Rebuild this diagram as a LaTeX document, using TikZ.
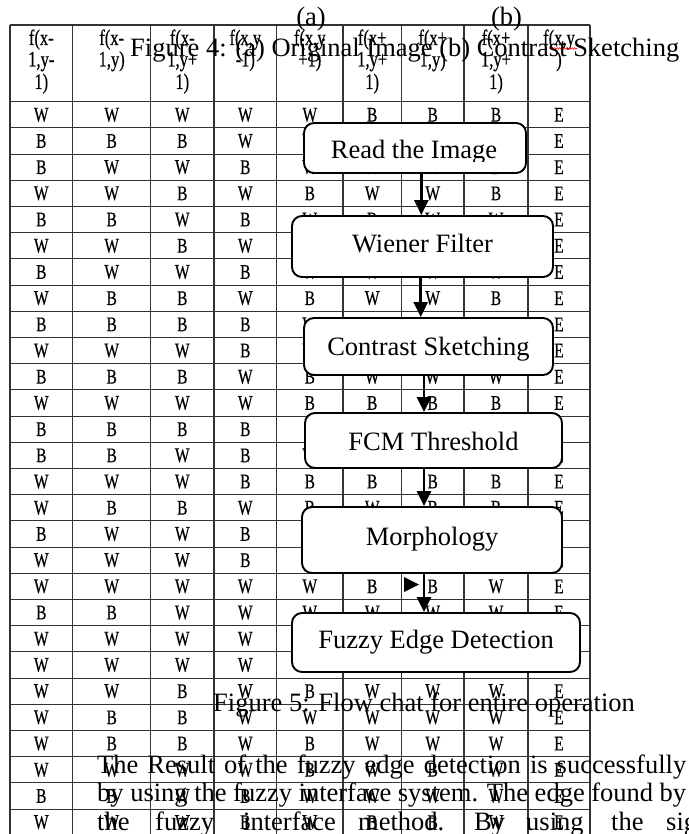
\documentclass[tikz,border=0pt]{standalone}
\usepackage{fontspec}
\setmainfont{Liberation Serif}
\newfontfamily\tabfont{Liberation Serif}[FakeBold=0.5]
\usepackage{graphicx}
\usetikzlibrary{arrows.meta,decorations.pathmorphing}
\newcommand{\cellL}[1]{\scalebox{0.97}[1.3]{#1}}
\newcommand{\trow}[2]{%
  \pgfmathsetmacro{\cy}{101.7+26.2*(#1-0.5)}%
  \foreach \v [count=\ci] in {#2} {%
    \pgfmathsetmacro{\cx}{{41.3,111.7,182.3,245.3,309.8,372.2,432.7,496,559}[\ci-1]}%
    \node[cellt] (c-#1-\ci) at (\cx,\cy) {\cellL{\v}};
  }%
}
\begin{document}
\begin{tikzpicture}[x=1pt,y=-1pt,
  tline/.style={draw=black!80,line width=1.1pt},
  cellt/.style={inner sep=0pt,font=\tabfont\fontsize{16}{19}\selectfont,text=black},
  hdr/.style={inner sep=0pt,anchor=base,font=\tabfont\fontsize{17}{20}\selectfont,text=black},
  big/.style={inner sep=0pt,font=\fontsize{26.5}{30}\selectfont},
  stepbox/.style={draw,line width=1.9pt,rounded corners=10pt,fill=white,inner sep=0pt,font=\fontsize{26.5}{30}\selectfont,text depth=0pt},
  arr/.style={line width=2.6pt,-{Triangle[width=14pt,length=15pt]}}]
\useasboundingbox (0,0) rectangle (688,834);
\clip (0,0) rectangle (688,834);
\fill[white] (0,0) rectangle (688,834);
% table grid
\foreach \x in {10,72.7,150.7,214,276.7,343,401.3,464,528,590} {
  \draw[tline] (\x,25) -- (\x,840);
}
\draw[tline] (10,25) -- (590,25);
\foreach \k in {0,...,28} {
  \draw[tline] (10,{101.7+26.2*\k}) -- (590,{101.7+26.2*\k});
}
% header
\node[hdr] (h1a) at (41.3,45) {\cellL{f(x-}};
\node[hdr] (h1b) at (41.3,66.5) {\cellL{1,y-}};
\node[hdr] (h1c) at (41.3,89) {\cellL{1)}};
\node[hdr] (h2a) at (111.7,45) {\cellL{f(x-}};
\node[hdr] (h2b) at (111.7,66.5) {\cellL{1,y)}};
\node[hdr] (h3a) at (182.3,45) {\cellL{f(x-}};
\node[hdr] (h3b) at (182.3,66.5) {\cellL{1,y+}};
\node[hdr] (h3c) at (182.3,89) {\cellL{1)}};
\node[hdr] (h4a) at (245.3,45) {\cellL{f(x,y}};
\node[hdr] (h4b) at (245.3,66.5) {\cellL{-1)}};
\node[hdr] (h5a) at (309.8,45) {\cellL{f(x,y}};
\node[hdr] (h5b) at (309.8,66.5) {\cellL{+1)}};
\node[hdr] (h6a) at (372.2,45) {\cellL{f(x+}};
\node[hdr] (h6b) at (372.2,66.5) {\cellL{1,y+}};
\node[hdr] (h6c) at (372.2,89) {\cellL{1)}};
\node[hdr] (h7a) at (432.7,45) {\cellL{f(x+}};
\node[hdr] (h7b) at (432.7,66.5) {\cellL{1,y)}};
\node[hdr] (h8a) at (496,45) {\cellL{f(x+}};
\node[hdr] (h8b) at (496,66.5) {\cellL{1,y+}};
\node[hdr] (h8c) at (496,89) {\cellL{1)}};
\node[hdr] (h9a) at (559,45) {\cellL{f(x,y}};
\node[hdr] (h9b) at (559,66.5) {\cellL{)}};
\draw[red,line width=0.6pt,decorate,decoration={zigzag,amplitude=0.8pt,segment length=2.5pt}] (549,48.5) -- (577,48.5);
% body
\trow{1}{W,W,W,W,W,B,B,B,E}
\trow{2}{B,B,B,W,W,W,W,B,E}
\trow{3}{B,W,W,B,W,W,W,B,E}
\trow{4}{W,W,B,W,B,W,W,B,E}
\trow{5}{B,B,W,B,W,B,W,W,E}
\trow{6}{W,W,B,W,W,W,W,W,E}
\trow{7}{B,W,W,B,W,W,W,W,E}
\trow{8}{W,B,B,W,B,W,W,B,E}
\trow{9}{B,B,B,B,W,W,W,W,E}
\trow{10}{W,W,W,B,W,W,W,W,E}
\trow{11}{B,B,B,W,B,W,W,W,E}
\trow{12}{W,W,W,W,B,B,B,B,E}
\trow{13}{B,B,B,B,B,B,B,B,E}
\trow{14}{B,B,W,B,W,W,W,W,E}
\trow{15}{W,W,W,B,B,B,B,B,E}
\trow{16}{W,B,B,W,B,W,B,B,E}
\trow{17}{B,W,W,B,W,W,W,W,E}
\trow{18}{W,W,W,B,W,W,W,W,E}
\trow{19}{W,W,W,W,W,B,B,W,E}
\trow{20}{B,B,W,W,W,W,W,W,E}
\trow{21}{W,W,W,W,W,W,W,W,E}
\trow{22}{W,W,W,W,W,W,W,W,E}
\trow{23}{W,W,B,W,B,W,W,W,E}
\trow{24}{W,B,B,W,W,W,W,W,E}
\trow{25}{W,B,B,W,B,W,W,W,E}
\trow{26}{W,W,W,W,B,W,B,W,E}
\trow{27}{B,B,W,B,W,W,W,W,E}
\trow{28}{W,W,W,B,W,B,B,W,E}
% captions
\node[big,anchor=base] (capa) at (311,26) {(a)};
\node[big,anchor=base] (capb) at (506.5,26) {(b)};
\node[big,anchor=base west] (fig4) at (130,57) {Figure 4: (a) Original Image (b) Contrast Sketching};
% flow chart
\node[stepbox,minimum width=222pt,minimum height=50pt] (read) at (415,148) {};
\begin{scope}
\clip (300,120) rectangle (530,162);
\node[big,anchor=base] (readtxt) at (414,158.5) {Read the Image};
\end{scope}
\node[stepbox,minimum width=261pt,minimum height=61pt,text height=11pt] (wiener) at (422.5,246.5) {Wiener Filter};
\node[stepbox,minimum width=249pt,minimum height=57pt,text height=17pt] (contrast) at (428.5,346.5) {Contrast Sketching};
\node[stepbox,minimum width=257pt,minimum height=55pt,text height=19pt] (fcm) at (433.5,440.5) {FCM Threshold};
\node[stepbox,minimum width=260pt,minimum height=66pt,text height=10pt] (morph) at (432,540) {Morphology};
\node[stepbox,minimum width=288pt,minimum height=59pt,text height=11pt] (fuzzy) at (436,642.5) {Fuzzy Edge Detection};
\coordinate (ax1) at (421.3,0);
\coordinate (ax2) at (420.7,0);
\coordinate (ax3) at (424,0);
\draw[arr] (read.south -| ax1) -- (wiener.north -| ax1);
\draw[arr] (wiener.south -| ax2) -- (contrast.north -| ax2);
\draw[arr] (contrast.south -| ax3) -- (fcm.north -| ax3);
\draw[arr] (fcm.south -| ax3) -- (morph.north -| ax3);
\draw[arr] (morph.south -| ax3) -- (fuzzy.north -| ax3);
\fill (404,577) -- (419,584.5) -- (404,592) -- cycle;
% caption 5 and paragraph
\node[big,anchor=base west] (fig5) at (213,711.7) {Figure 5: Flow chat for entire operation};
\node[big,anchor=base west] (p1) at (97,773) {\makebox[589pt][s]{The Result of the fuzzy edge detection is successfully}};
\node[big,anchor=base west] (p2) at (97,801.7) {\makebox[589pt][s]{by using the fuzzy interface system. The edge found by}};
\node[big,anchor=base west] (p3a) at (97,830) {the};
\node[big,anchor=base west] (p3b) at (155,830) {fuzzy};
\node[big,anchor=base west] (p3c) at (243,830) {interface};
\node[big,anchor=base west] (p3d) at (358,830) {method.};
\node[big,anchor=base west] (p3e) at (474,830) {By};
\node[big,anchor=base west] (p3f) at (526,830) {using};
\node[big,anchor=base west] (p3g) at (611,830) {the};
\node[big,anchor=base west] (p3h) at (666,830) {sig};
\end{tikzpicture}
\end{document}
